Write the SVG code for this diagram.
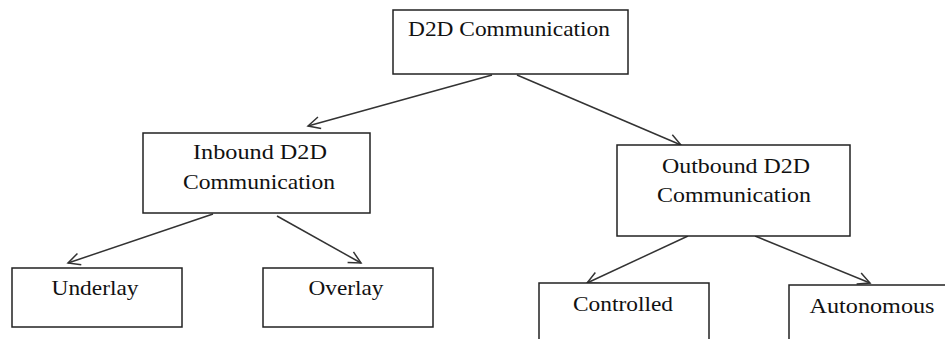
<svg xmlns="http://www.w3.org/2000/svg" width="945" height="339" viewBox="0 0 945 339">
<style>
.box{fill:#fff;stroke:#222;stroke-width:1.5}
.lbl{font-family:"Liberation Serif","Times New Roman",serif;font-size:21px;fill:#111;text-anchor:middle}
.edge{stroke:#333;stroke-width:1.5;fill:none;marker-end:url(#arr)}
</style>
<defs>
<marker id="arr" markerWidth="16" markerHeight="16" refX="13" refY="7" orient="auto" markerUnits="userSpaceOnUse">
<polyline points="1,1 13,7 1,13" fill="none" stroke="#333" stroke-width="1.5"/>
</marker>
</defs>
<rect width="945" height="339" fill="#fff"/>
<g id="connectors">
<line class="edge" x1="492" y1="75" x2="308" y2="126"/>
<line class="edge" x1="517" y1="75" x2="681" y2="145"/>
<line class="edge" x1="213" y1="214" x2="68" y2="263"/>
<line class="edge" x1="277" y1="216" x2="361" y2="263"/>
<line class="edge" x1="688" y1="236" x2="587" y2="283"/>
<line class="edge" x1="755" y1="236" x2="870" y2="283"/>
</g>
<g id="n-d2d">
<rect class="box" x="393" y="10" width="235" height="64"/>
<text class="lbl" x="509" y="36" textLength="202" lengthAdjust="spacingAndGlyphs">D2D Communication</text>
</g>
<g id="n-inbound">
<rect class="box" x="143" y="133" width="227" height="80"/>
<text class="lbl" x="260" y="159" textLength="134" lengthAdjust="spacingAndGlyphs">Inbound D2D</text>
<text class="lbl" x="259" y="189" textLength="152" lengthAdjust="spacingAndGlyphs">Communication</text>
</g>
<g id="n-outbound">
<rect class="box" x="617" y="145" width="233" height="91"/>
<text class="lbl" x="736" y="173" textLength="148" lengthAdjust="spacingAndGlyphs">Outbound D2D</text>
<text class="lbl" x="734" y="202" textLength="154" lengthAdjust="spacingAndGlyphs">Communication</text>
</g>
<g id="n-underlay">
<rect class="box" x="12" y="268" width="170" height="59"/>
<text class="lbl" x="95" y="295" textLength="87" lengthAdjust="spacingAndGlyphs">Underlay</text>
</g>
<g id="n-overlay">
<rect class="box" x="263" y="268" width="170" height="59"/>
<text class="lbl" x="346" y="295" textLength="75" lengthAdjust="spacingAndGlyphs">Overlay</text>
</g>
<g id="n-controlled">
<rect class="box" x="539" y="283" width="170" height="70"/>
<text class="lbl" x="623" y="311" textLength="100" lengthAdjust="spacingAndGlyphs">Controlled</text>
</g>
<g id="n-autonomous">
<rect class="box" x="789" y="285" width="170" height="70"/>
<text class="lbl" x="872" y="313" textLength="125" lengthAdjust="spacingAndGlyphs">Autonomous</text>
</g>
</svg>
